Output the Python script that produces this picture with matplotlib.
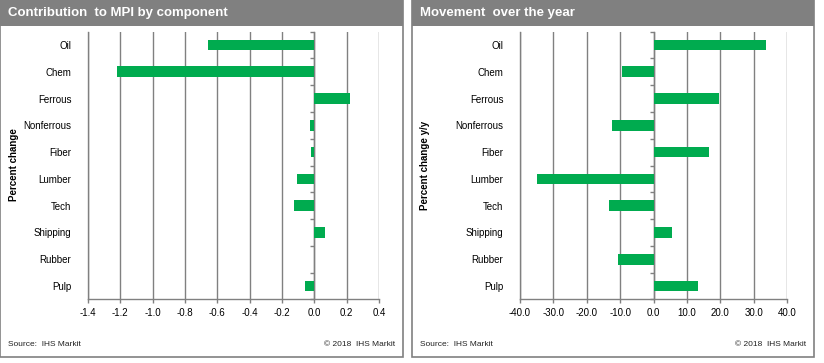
import matplotlib.pyplot as plt
from matplotlib.patches import Rectangle
from matplotlib.ticker import FormatStrFormatter, FixedLocator
import numpy as np

plt.rcParams['font.family'] = ['Liberation Sans', 'DejaVu Sans']

categories = ['Oil', 'Chem', 'Ferrous', 'Nonferrous', 'Fiber', 'Lumber',
              'Tech', 'Shipping', 'Rubber', 'Pulp']
contribution = [-0.66, -1.22, 0.22, -0.025, -0.02, -0.11, -0.125, 0.068, 0.0, -0.056]
movement = [33.6, -9.4, 19.7, -12.4, 16.7, -34.8, -13.3, 5.6, -10.6, 13.3]

left_title = 'Contribution  to MPI by component'
right_title = 'Movement  over the year'
left_ylabel = 'Percent change'
right_ylabel = 'Percent change y/y'
source_txt = 'Source:  IHS Markit'
copy_txt = '\u00a9 2018  IHS Markit'

GREEN = '#00AB4F'
GRAY = '#808080'
W, H = 824, 363

fig = plt.figure(figsize=(W / 100, H / 100), dpi=100)


def px(x0, y0, x1, y1):
    # pixel box -> figure fraction [left, bottom, width, height]
    return [x0 / W, 1 - y1 / H, (x1 - x0) / W, (y1 - y0) / H]


def panel(x0, x1, title):
    fig.patches.append(Rectangle((x0 / W, 1 - 357 / H), (x1 - x0) / W, 357 / H,
                                 transform=fig.transFigure, fill=False,
                                 edgecolor=GRAY, lw=1.2))
    fig.patches.append(Rectangle((x0 / W, 1 - 26 / H), (x1 - x0) / W, 26 / H,
                                 transform=fig.transFigure, color=GRAY, lw=0))
    fig.text((x0 + 8) / W, 1 - 13 / H, title, color='white', fontsize=9.5,
             fontweight='bold', va='center', ha='left')
    fig.text((x0 + 8) / W, 1 - 344 / H, source_txt, fontsize=6, color='#222222',
             va='center', ha='left')
    fig.text((x1 - 8) / W, 1 - 344 / H, copy_txt, fontsize=6, color='#222222',
             va='center', ha='right')


def bar_axes(box, values, xlim, step, fmt, ylabel, ylabel_x):
    ax = fig.add_axes(box)
    y = np.arange(len(categories))
    ax.barh(y, values, height=0.4, color=GREEN, zorder=3)
    ax.set_ylim(len(categories) - 0.5, -0.5)
    ax.set_xlim(*xlim)
    # round so the zero tick prints as 0.0, not -0.0
    ax.set_xticks(np.round(np.arange(xlim[0], xlim[1] + step / 2, step), 6) + 0.0)
    ax.xaxis.set_major_formatter(FormatStrFormatter(fmt))
    ax.set_yticks(y)
    ax.set_yticklabels(categories)
    ax.yaxis.set_minor_locator(FixedLocator(np.arange(-0.5, len(categories), 1)))
    ax.tick_params(axis='y', which='major', length=0, pad=12, labelsize=7)
    ax.tick_params(axis='y', which='minor', left=False, right=True,
                   direction='in', length=3, color=GRAY, width=1)
    ax.tick_params(axis='x', which='major', length=3, color=GRAY, width=1,
                   labelsize=7, pad=3)
    ax.grid(axis='x', color=GRAY, lw=1, zorder=0)
    ax.spines['top'].set_visible(False)
    ax.spines['right'].set_position(('data', 0))
    for s in ('left', 'right', 'bottom'):
        ax.spines[s].set_color(GRAY)
        ax.spines[s].set_linewidth(1)
    fig.text(ylabel_x / W, 1 - 165 / H, ylabel, rotation=90, fontsize=7,
             fontweight='bold', va='center', ha='center')
    return ax


panel(0, 403, left_title)
panel(412, 814, right_title)

bar_axes(px(88, 31.6, 379, 299.4), contribution, (-1.4, 0.4), 0.2, '%.1f',
         left_ylabel, 14)
bar_axes(px(520, 31.6, 787, 299.4), movement, (-40, 40), 10, '%.1f',
         right_ylabel, 425)

fig.savefig('out.png', dpi=100)
